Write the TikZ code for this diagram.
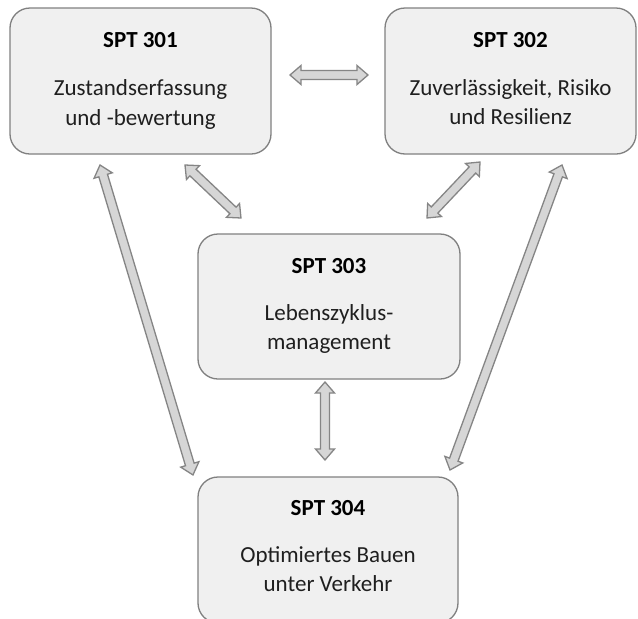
\documentclass[tikz,border=0pt]{standalone}
\usepackage{fontspec}
\setmainfont{Carlito}
\usetikzlibrary{calc}
\definecolor{boxfill}{HTML}{F0F0F0}
\definecolor{boxline}{HTML}{808080}
\definecolor{arrfill}{HTML}{D6D6D6}
\definecolor{arrline}{HTML}{858585}
\definecolor{txt}{HTML}{1F1F1F}
\tikzset{
  box/.style={draw=boxline, fill=boxfill, line width=1.3pt, rounded corners=20pt, inner sep=0pt},
  ttl/.style={anchor=base, inner sep=0pt, text=black, font=\fontsize{23}{27}\selectfont\bfseries},
  bdy/.style={anchor=base, inner sep=0pt, text=txt, font=\fontsize{23}{27}\selectfont},
  blockarrow/.style={draw=arrline, fill=arrfill, line width=1.3pt, line join=miter}
}
\newcommand\blockarr[2]{%
  \pgfpointdiff{\pgfpointanchor{#1}{center}}{\pgfpointanchor{#2}{center}}%
  \pgfgetlastxy{\bxa}{\bya}%
  \pgfmathsetmacro\arrang{atan2(\bya,\bxa)}%
  \pgfmathsetmacro\arrlen{veclen(\bxa,\bya)}%
  \begin{scope}[shift={(#1)}, rotate=\arrang]
    \draw[blockarrow] (0pt,0pt) -- (11pt,9.5pt) -- (11pt,4.5pt) -- (\arrlen pt-11pt,4.5pt)
      -- (\arrlen pt-11pt,9.5pt) -- (\arrlen pt,0pt) -- (\arrlen pt-11pt,-9.5pt)
      -- (\arrlen pt-11pt,-4.5pt) -- (11pt,-4.5pt) -- (11pt,-9.5pt) -- cycle;
  \end{scope}}
\begin{document}
\begin{tikzpicture}[x=1pt, y=-1pt]
\path[use as bounding box, clip] (0,0) rectangle (638,619);
\fill[white] (0,0) rectangle (638,619);

% boxes
\node[box, minimum width=261pt, minimum height=146pt] (b1) at (140.5,81) {};
\node[box, minimum width=251pt, minimum height=146pt] (b2) at (510.5,81) {};
\node[box, minimum width=262pt, minimum height=145pt] (b3) at (329,306.5) {};
\node[box, minimum width=260pt, minimum height=146pt] (b4) at (328,550) {};

% texts
\node[ttl] (t1) at (140.5,47) {SPT 301};
\node[bdy] (t1a) at (140.5,95) {Zustandserfassung};
\node[bdy] (t1b) at (140.5,125) {und -bewertung};

\node[ttl] (t2) at (510.5,47) {SPT 302};
\node[bdy] (t2a) at (510.5,95) {Zuverlässigkeit, Risiko};
\node[bdy] (t2b) at (510.5,124) {und Resilienz};

\node[ttl] (t3) at (329,273) {SPT 303};
\node[bdy] (t3a) at (329,320) {Lebenszyklus-};
\node[bdy] (t3b) at (329,349) {management};

\node[ttl] (t4) at (328,515) {SPT 304};
\node[bdy] (t4a) at (328,562) {Optimiertes Bauen};
\node[bdy] (t4b) at (328,591) {unter Verkehr};

% arrow end points
\coordinate (h1) at (290,75);   \coordinate (h2) at (368,75);
\coordinate (d1a) at (185,165); \coordinate (d1b) at (241,218);
\coordinate (d2a) at (480,162); \coordinate (d2b) at (427,218);
\coordinate (v1) at (325,382);  \coordinate (v2) at (325,460);
\coordinate (l1) at (100,165);  \coordinate (l2) at (193,475);
\coordinate (r1) at (562,165);  \coordinate (r2) at (450,470);

\blockarr{h1}{h2}
\blockarr{d1a}{d1b}
\blockarr{d2a}{d2b}
\blockarr{v1}{v2}
\blockarr{l1}{l2}
\blockarr{r1}{r2}
\end{tikzpicture}
\end{document}
